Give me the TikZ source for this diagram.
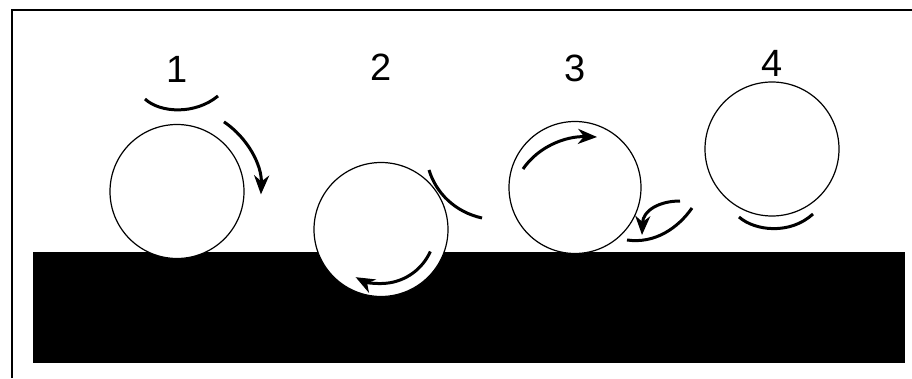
\documentclass[tikz,border=0pt]{standalone}
\usepackage{fontspec}
\setmainfont{Liberation Sans}
\usetikzlibrary{positioning,arrows.meta}

\begin{document}
\begin{tikzpicture}[x=1pt, y=1pt]
\tikzset{ball/.style={circle, draw, line width=1.2pt, fill=white, minimum size=134pt, inner sep=0pt, outer sep=0pt}}
\tikzset{num/.style={font=\fontsize{38}{40}\selectfont, inner sep=0pt}}
\tikzset{turn/.style={-{Stealth[length=19pt, width=15pt, inset=6pt]}, line width=3pt}}
\tikzset{film/.style={line width=3pt}}

\useasboundingbox (0,0) rectangle (912,378);
\draw[line width=2pt] (12,0) |- (912,368);
\fill (33,15) rectangle (905,126);

\node[ball] (b1) at (177,186.5) {};
\node[ball] (b2) at (381,148.5) {};
\node[ball, minimum size=132pt] (b3) at (575,190.5) {};
\node[ball] (b4) at (772,229) {};

\node[num, above=42pt of b1] (n1) {1};
\node[num, above=82pt of b2] (n2) {2};
\node[num, above=39pt of b3] (n3) {3};
\node[num, above=5pt of b4] (n4) {4};

% 1
\draw[film] (145,279) .. controls (160,265) and (195,263) .. (218,282);
\draw[turn] ([shift={(56:84)}]b1.center) arc[start angle=56, end angle=-2, radius=84];
% 2
\draw[film] (429,208) .. controls (436,185) and (455,166) .. (482,160);
\draw[turn] ([shift={(-24:54)}]b2.center) arc[start angle=-24, end angle=-118, radius=54];
% 3
\draw[turn] (523,209) .. controls (538,231) and (565,242) .. (597,241);
\draw[turn] (680,177) .. controls (660,177) and (643,168) .. (642,143);
\draw[film] (627,138) .. controls (655,134) and (678,150) .. (692,170);
% 4
\draw[film] (739,161) .. controls (755,147) and (790,143) .. (813,164);
\end{tikzpicture}
\end{document}
